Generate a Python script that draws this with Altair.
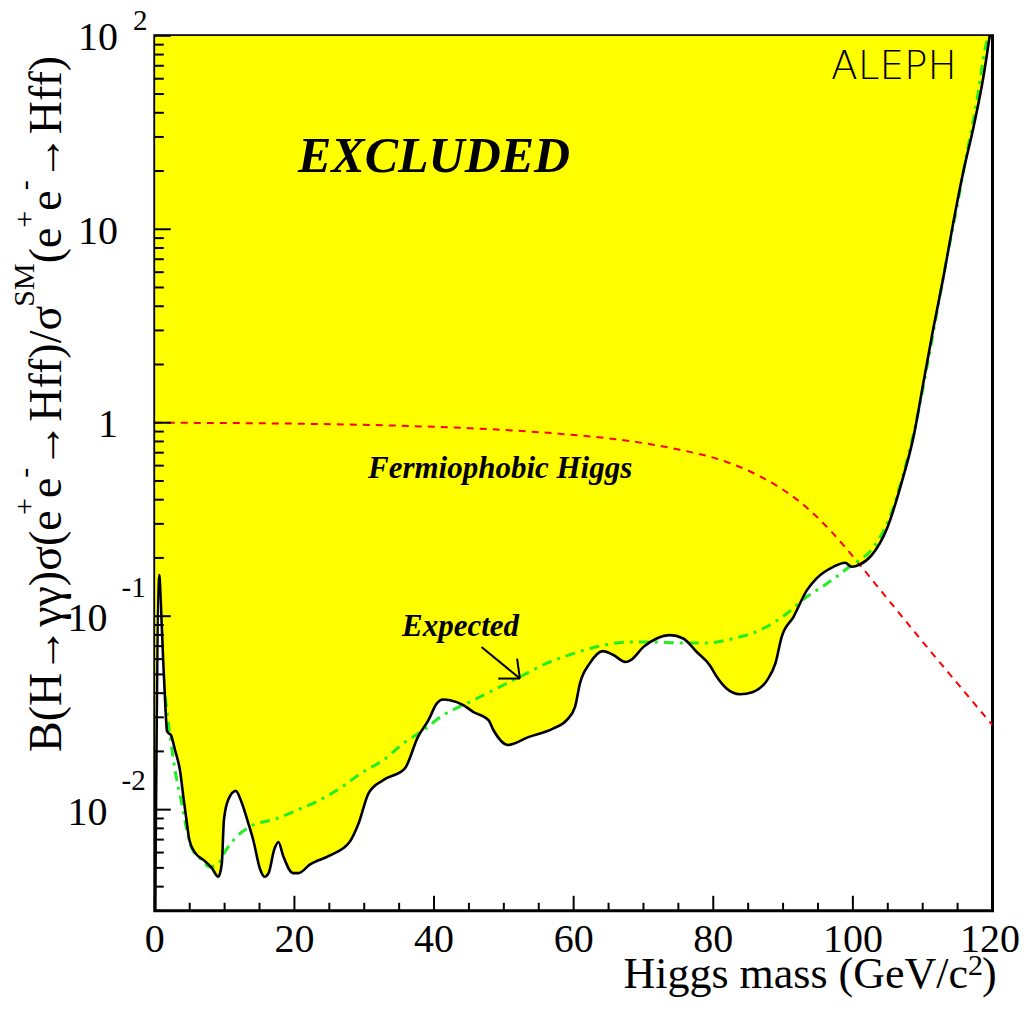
import altair as alt
import pandas as pd

# ---------------- data ----------------
obs_m = [0.05, 0.65, 0.85, 1.2, 1.5, 1.75, 2.0, 2.3, 2.9, 3.6, 4.1, 4.6, 4.95, 5.76, 6.95, 8.15, 9.1, 9.6,
         9.9, 10.5, 11.6, 12.4, 13.4, 14.1, 15.1, 15.7, 16.3, 17.1, 17.7, 18.4, 19.8, 20.6, 22.2, 25.1,
         27.9, 29.2, 30.6, 32.7, 35.8, 37.7, 39.2, 40.4, 41.3, 42.3, 44.2, 45.6, 47.8, 48.5, 50.6, 53.5,
         57.1, 59.0, 60.2, 60.9, 62.3, 64.2, 65.7, 67.4, 68.3, 70.0, 71.9, 73.8, 75.7, 77.6, 79.5, 80.5,
         81.9, 83.8, 85.7, 87.7, 88.9, 89.8, 91.5, 93.4, 94.8, 97.2, 98.9, 99.8, 101.0, 102.7, 104.9,
         107.0, 108.7, 110.1, 111.5, 113.0, 114.4, 115.8, 117.3, 118.7, 119.6]
obs_v = [0.003, 0.163, 0.12, 0.059, 0.035, 0.0255, 0.0248, 0.0243, 0.0203, 0.016, 0.0116, 0.0085, 0.00697,
         0.0060, 0.0055, 0.0050, 0.0045, 0.00527, 0.00883, 0.0112, 0.0125, 0.011, 0.0085, 0.00697, 0.0049,
         0.0045, 0.0047, 0.0062, 0.0068, 0.00575, 0.0047, 0.0047, 0.0052, 0.0058, 0.0068, 0.0085, 0.0121,
         0.0142, 0.0163, 0.0238, 0.029, 0.0354, 0.0371, 0.0368, 0.0347, 0.032, 0.029, 0.0258, 0.0216,
         0.0237, 0.0263, 0.029, 0.034, 0.0449, 0.057, 0.066, 0.063, 0.058, 0.0597, 0.0694, 0.0767, 0.0798,
         0.0767, 0.0655, 0.0558, 0.0486, 0.0423, 0.0395, 0.0406, 0.0466, 0.057, 0.0782, 0.0993, 0.136,
         0.157, 0.180, 0.189, 0.180, 0.185, 0.207, 0.285, 0.493, 0.85, 1.61, 3.04, 5.74, 10.9, 19.7, 34.0,
         61.4, 100.0]

exp_m = [1.5, 2.2, 2.9, 3.85, 4.6, 5.3, 6.5, 7.9, 9.1, 10.05, 11.7, 13.6, 17.5, 20.8, 23.2, 26.5, 29.9,
         32.7, 35.6, 38.5, 41.3, 44.7, 48.5, 52.3, 56.1, 59.9, 63.7, 67.6, 71.4, 75.2, 79.0, 82.9, 86.7,
         90.5, 93.4, 96.3, 99.5, 102.9, 105.3, 107.2, 109.1, 110.6, 112.0, 113.4, 114.9, 116.3, 117.7,
         118.9, 119.4]
exp_v = [0.0383, 0.0238, 0.016, 0.0108, 0.0078, 0.0063, 0.0056, 0.00506, 0.00527, 0.00605, 0.00724,
         0.00815, 0.009, 0.0101, 0.011, 0.0129, 0.0157, 0.018, 0.022, 0.0258, 0.0308, 0.0354, 0.0415,
         0.0486, 0.057, 0.064, 0.070, 0.0734, 0.0736, 0.0727, 0.0727, 0.0767, 0.0847, 0.103, 0.126,
         0.1475, 0.18, 0.226, 0.326, 0.538, 1.02, 1.93, 3.65, 6.9, 13.0, 24.5, 44.7, 84.0, 100.0]

fp_m = [0, 20.8, 35.1, 49.4, 58.0, 66.6, 75.2, 81.0, 86.7, 92.4, 96.8, 100.7, 103.9, 106.8, 111.1,
        115.4, 119.6, 120]
fp_v = [1.0, 0.988, 0.965, 0.92, 0.877, 0.817, 0.725, 0.643, 0.528, 0.39, 0.2765, 0.19, 0.137, 0.102,
        0.066, 0.0431, 0.0284, 0.0273]

x_major = [0, 20, 40, 60, 80, 100, 120]
x_minor = [m for m in range(0, 121, 5) if m % 20 != 0]
y_major = [0.01, 0.1, 1, 10, 100]
y_minor = [k * 10.0 ** e for e in range(-3, 2) for k in range(2, 10) if k * 10.0 ** e >= 0.003]

y_lab_plain = pd.DataFrame({"v": [100, 10, 1], "t": ["10", "10", "1"]})
y_lab_neg = pd.DataFrame({"v": [0.1, 0.01], "t": ["10", "10"]})
y_exp_neg = pd.DataFrame({"v": [0.1, 0.01], "t": ["-1", "-2"]})
y_exp_pos = pd.DataFrame({"v": [100], "t": ["2"]})

# arrow (data coordinates) for "Expected"
arrow_x = [46.8, 52.3, 49.2, 52.3, 51.9, 52.3]
arrow_y = [0.0693, 0.0476, 0.0476, 0.0476, 0.0604, 0.0476]

# ---------------- layout ----------------
W, H = 837.7, 875.0
OX, OY = 154.8, 35.8  # plot origin on page
SERIF = "Liberation Serif"

xs = alt.Scale(domain=[0, 120], nice=False, zero=False)
ys = alt.Scale(type="log", domain=[0.003, 100], nice=False)

obs = pd.DataFrame({"m": obs_m, "v": obs_v})
obs["top"] = 100.0
exp = pd.DataFrame({"m": exp_m, "v": exp_v})
fp = pd.DataFrame({"m": fp_m, "v": fp_v})

X = alt.X("m:Q", scale=xs, axis=None)
Y = alt.Y("v:Q", scale=ys, axis=None)

area = alt.Chart(obs).mark_area(color="#ffff00", fillOpacity=1, interpolate="monotone", clip=True).encode(
    x=X, y=Y, y2="top:Q")
obs_line = alt.Chart(obs).mark_line(color="black", strokeWidth=2.6, interpolate="monotone", clip=True).encode(x=X, y=Y)
exp_line = alt.Chart(exp).mark_line(color="#22ee22", strokeWidth=3, strokeDash=[10, 6, 3, 6],
                                    interpolate="monotone", clip=True).encode(x=X, y=Y)
fp_line = alt.Chart(fp).mark_line(color="#ff0000", strokeWidth=2, strokeDash=[7, 6],
                                  interpolate="monotone", clip=True).encode(x=X, y=Y)

# ticks (inward)
xmaj = alt.Chart(pd.DataFrame({"m": x_major})).mark_rule(color="black", strokeWidth=2).encode(
    x=X, y=alt.value(H), y2=alt.value(H - 15))
xmin = alt.Chart(pd.DataFrame({"m": x_minor})).mark_rule(color="black", strokeWidth=2).encode(
    x=X, y=alt.value(H), y2=alt.value(H - 8))
ymaj = alt.Chart(pd.DataFrame({"v": y_major})).mark_rule(color="black", strokeWidth=2).encode(
    y=Y, x=alt.value(0), x2=alt.value(16))
ymin = alt.Chart(pd.DataFrame({"v": y_minor})).mark_rule(color="black", strokeWidth=2).encode(
    y=Y, x=alt.value(0), x2=alt.value(9))

# tick labels
xlab = alt.Chart(pd.DataFrame({"m": x_major[:-1], "t": [str(v) for v in x_major[:-1]]})).mark_text(
    font=SERIF, fontSize=40, align="center", baseline="alphabetic").encode(
    x=X, y=alt.value(951.7 - OY), text="t:N")
xlab_last = alt.Chart(pd.DataFrame({"m": x_major[-1:], "t": [str(v) for v in x_major[-1:]]})).mark_text(
    font=SERIF, fontSize=40, align="center", baseline="alphabetic", dx=-2.5).encode(
    x=X, y=alt.value(951.7 - OY), text="t:N")
ylab1 = alt.Chart(y_lab_plain).mark_text(font=SERIF, fontSize=40, align="right", baseline="alphabetic",
                                         dy=14.5).encode(y=Y, x=alt.value(118 - OX), text="t:N")
ylab2 = alt.Chart(y_lab_neg).mark_text(font=SERIF, fontSize=40, align="right", baseline="alphabetic",
                                       dy=15).encode(y=Y, x=alt.value(107.5 - OX), text="t:N")
yexp1 = alt.Chart(y_exp_neg).mark_text(font=SERIF, fontSize=29, align="left", baseline="alphabetic",
                                       dy=-19.5).encode(y=Y, x=alt.value(121.5 - OX), text="t:N")
yexp2 = alt.Chart(y_exp_pos).mark_text(font=SERIF, fontSize=29, align="left", baseline="alphabetic",
                                       dy=-5.8).encode(y=Y, x=alt.value(133 - OX), text="t:N")

# x title
XT_BASE = 988
xt_main = alt.Chart(pd.DataFrame({"t": ["Higgs mass (GeV/c"]})).mark_text(
    font=SERIF, fontSize=44, align="right", baseline="alphabetic").encode(
    text="t:N", x=alt.value(968 - OX), y=alt.value(XT_BASE - OY))
xt_sup = alt.Chart(pd.DataFrame({"t": ["2"]})).mark_text(
    font=SERIF, fontSize=30, align="left", baseline="alphabetic").encode(
    text="t:N", x=alt.value(968 - OX), y=alt.value(XT_BASE - 13 - OY))
xt_end = alt.Chart(pd.DataFrame({"t": [")"]})).mark_text(
    font=SERIF, fontSize=44, align="left", baseline="alphabetic").encode(
    text="t:N", x=alt.value(982 - OX), y=alt.value(XT_BASE - OY))

# y title built from pieces (superscripts)
F, S = 46, 30
wid = {"B": 0.667, "(": 0.333, ")": 0.333, "H": 0.722, "→": 0.95, "γ": 0.41, "σ": 0.55, "e": 0.444,
       "f": 0.333, "/": 0.278, "+": 0.564, "-": 0.333, "S": 0.556, "M": 0.889}
segs = [("B(H→γγ)σ(e", 0), ("+", 1), ("e", 0), ("-", 1), ("→Hff)/σ", 0), ("SM", 1), ("(e", 0),
        ("+", 1), ("e", 0), ("-", 1), ("→Hff)", 0)]
ypos = 752 - OY
main_rows, sup_rows = [], []
for txt, sup in segs:
    size = S if sup else F
    (sup_rows if sup else main_rows).append({"t": txt, "py": ypos})
    ypos -= sum(wid[c] for c in txt) * size
yt_main = alt.Chart(pd.DataFrame(main_rows)).mark_text(
    font=SERIF, fontSize=F, align="left", baseline="alphabetic", angle=270).encode(
    text="t:N", x=alt.value(61 - OX), y=alt.Y("py:Q", scale=None))
yt_sup = alt.Chart(pd.DataFrame(sup_rows)).mark_text(
    font=SERIF, fontSize=S, align="left", baseline="alphabetic", angle=270).encode(
    text="t:N", x=alt.value(34 - OX), y=alt.Y("py:Q", scale=None))

# annotations
def label(txt, px, py, size, style="italic", weight="bold", font=SERIF):
    return alt.Chart(pd.DataFrame({"t": [txt]})).mark_text(
        font=font, fontSize=size, fontStyle=style, fontWeight=weight, align="left",
        baseline="alphabetic").encode(text="t:N", x=alt.value(px - OX), y=alt.value(py - OY))

excl = label("EXCLUDED", 298, 172, 50)
ferm = label("Fermiophobic Higgs", 368, 478, 31)
expt = label("Expected", 402, 636, 31)
aleph = label("ALEPH", 831, 79, 39, style="normal", weight=200, font="DejaVu Sans")

arr = pd.DataFrame({"m": arrow_x[0::2], "v": arrow_y[0::2], "m2": arrow_x[1::2], "v2": arrow_y[1::2]})
arrow = alt.Chart(arr).mark_rule(color="black", strokeWidth=2).encode(
    x=X, y=Y, x2="m2:Q", y2="v2:Q")

chart = alt.layer(
    area, fp_line, exp_line, obs_line, xmaj, xmin, ymaj, ymin, xlab, xlab_last, ylab1, ylab2, yexp1,
    yexp2, xt_main, xt_sup, xt_end, yt_main, yt_sup, excl, ferm, expt, aleph, arrow
).properties(
    width=W, height=H,
    autosize=alt.AutoSizeParams(type="none"),
    padding={"left": OX - 8, "top": OY - 8, "right": 28, "bottom": 87},
    background="white",
).configure_view(stroke="black", strokeWidth=3)

chart.save("out.html", embed_options={"renderer": "svg", "actions": False})
